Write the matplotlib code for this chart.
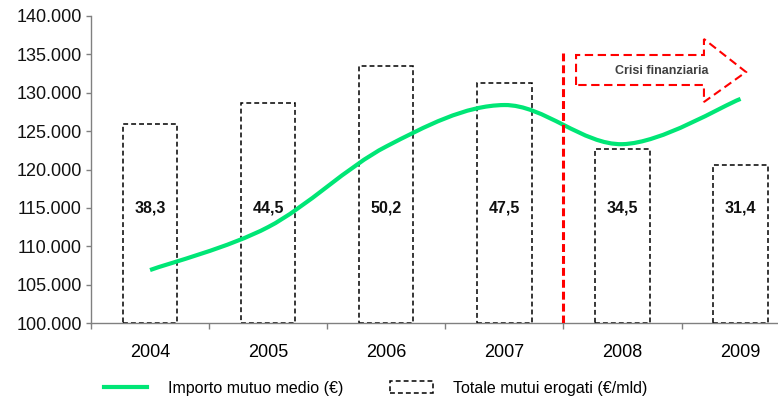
import numpy as np
import matplotlib
matplotlib.use('Agg')
import matplotlib.pyplot as plt
from matplotlib.patches import Patch, Polygon, PathPatch
from matplotlib.lines import Line2D
from matplotlib.path import Path
from matplotlib.ticker import FuncFormatter, FixedLocator

plt.rcParams['font.family'] = ['Liberation Sans', 'DejaVu Sans']

# Data
years = ['2004', '2005', '2006', '2007', '2008', '2009']
importo_medio = [106900, 112500, 123000, 128400, 123300, 129200]   # € (line)
totale_mutui = [38.3, 44.5, 50.2, 47.5, 34.5, 31.4]                # €/mld (labels)
bar_tops = [125950, 128650, 133500, 131250, 122700, 120600]        # bar height on left scale

green = '#00e676'
W, H = 778, 398


def smooth_path(xs, ys):
    """Excel-like smoothed line as cubic bezier segments."""
    pts = np.column_stack([xs, ys]).astype(float)
    p = np.vstack([pts[0], pts, pts[-1]])
    verts = [pts[0]]
    codes = [Path.MOVETO]
    for i in range(1, len(p) - 2):
        c1 = p[i] + (p[i + 1] - p[i - 1]) / 6
        c2 = p[i + 1] - (p[i + 2] - p[i]) / 6
        verts += [c1, c2, p[i + 1]]
        codes += [Path.CURVE4] * 3
    return Path(verts, codes)


fig = plt.figure(figsize=(W / 100, H / 100), dpi=100)
ax = fig.add_axes([91 / W, (H - 323) / H, (W - 91) / W, (323 - 16) / H])

x = np.arange(len(years))
ax.bar(x, np.array(bar_tops) - 100000, bottom=100000, width=0.46,
       fill=False, edgecolor='black', linewidth=1.1, linestyle=(0, (3.2, 2.0)),
       zorder=2)

for xi, v in zip(x, totale_mutui):
    ax.text(xi, 115000, f'{v:.1f}'.replace('.', ','), ha='center', va='center',
            fontsize=11.5, fontweight='bold', color='#111111', zorder=3)

ax.add_patch(PathPatch(smooth_path(x, importo_medio), fill=False,
                       edgecolor=green, linewidth=3, capstyle='butt', zorder=4))

# crisis marker
ax.plot([3.5, 3.5], [100000, 135180], color='red', linewidth=2.2,
        dashes=(2.6, 1.3), zorder=5)
arrow = [(3.607, 131010), (3.607, 134919), (4.69, 134919), (4.69, 137003),
         (5.046, 132704), (4.69, 128795), (4.69, 131010)]
ax.add_patch(Polygon(arrow, closed=True, fill=False, edgecolor='red',
                     linewidth=1.5, linestyle=(0, (4, 2.2)), zorder=5))
ax.text(4.33, 132835, 'Crisi finanziaria', ha='center', va='center',
        fontsize=9, fontweight='bold', color='#404040', zorder=6)

ax.set_xlim(-0.5, -0.5 + 687 / 118.1)
ax.set_ylim(100000, 140000)

ax.set_xticks(x)
ax.set_xticklabels(years)
ax.xaxis.set_minor_locator(FixedLocator(np.arange(-0.5, 6, 1.0)))
ax.tick_params(axis='x', which='major', length=0, pad=15, labelsize=13)
ax.tick_params(axis='x', which='minor', length=4, width=1, color='#808080')

ax.set_yticks(np.arange(100000, 140001, 5000))
ax.yaxis.set_major_formatter(FuncFormatter(lambda v, _: f'{v:,.0f}'.replace(',', '.')))
ax.tick_params(axis='y', length=3.5, width=1, color='#808080', pad=3,
               labelsize=13, labelcolor='#111111')

for side in ['top', 'right']:
    ax.spines[side].set_visible(False)
for side in ['left', 'bottom']:
    ax.spines[side].set_color('#808080')
    ax.spines[side].set_linewidth(1)

handles = [Line2D([], [], color=green, linewidth=3),
           Patch(facecolor='white', edgecolor='black', linewidth=1.1,
                 linestyle=(0, (3.2, 2.0)))]
labels = ['Importo mutuo medio (€)', 'Totale mutui erogati (€/mld)']
fig.legend(handles, labels, loc='center left', bbox_to_anchor=(104 / W, 10 / H),
           ncol=2, frameon=False, fontsize=11.5, handlelength=2.7,
           handletextpad=1.3, columnspacing=2.9, borderaxespad=0, borderpad=0)

fig.savefig('out.png', dpi=100)
